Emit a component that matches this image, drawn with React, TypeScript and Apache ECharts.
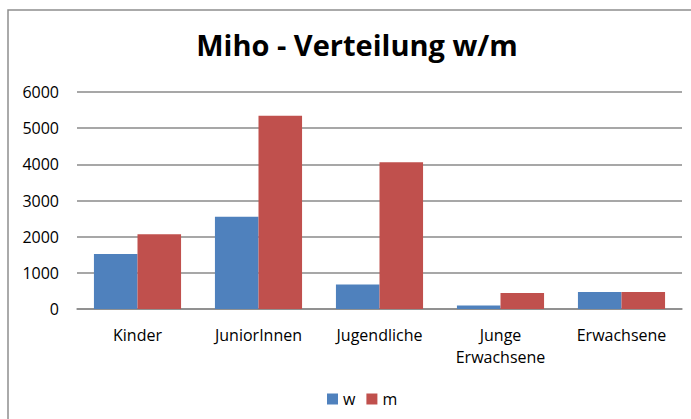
import React, { useEffect, useRef } from "react";
import * as echarts from "echarts";

const title = "Miho - Verteilung w/m";
const categories = ["Kinder", "JuniorInnen", "Jugendliche", "Junge Erwachsene", "Erwachsene"];
const seriesNames = ["w", "m"];
const wValues = [1520, 2550, 680, 100, 470];
const mValues = [2065, 5340, 4060, 440, 470];
const yTicks = [0, 1000, 2000, 3000, 4000, 5000, 6000];

const FONT = "'Open Sans', 'Noto Sans', sans-serif";

export default function App() {
  const ref = useRef<HTMLDivElement>(null);
  useEffect(() => {
    document.body.style.margin = "0";
    const chart = echarts.init(ref.current!, null, { renderer: "svg" });
    chart.setOption({
      animation: false,
      backgroundColor: "#ffffff",
      textStyle: { fontFamily: FONT },
      title: {
        text: title,
        left: 352,
        textAlign: "center",
        top: 25,
        textStyle: { fontFamily: FONT, fontWeight: "bold", fontSize: 29, color: "#000" },
      },
      graphic: [
        {
          type: "rect",
          shape: { x: 8, y: 10, width: 720, height: 440 },
          style: { fill: "none", stroke: "#8e8e8e", lineWidth: 1.5 },
          silent: true,
        },
      ],
      legend: {
        left: 322,
        top: 386,
        icon: "rect",
        itemWidth: 11,
        itemHeight: 11,
        itemGap: 11,
        textStyle: { fontFamily: FONT, fontSize: 16, color: "#000" },
        data: seriesNames,
      },
      grid: { left: 77, right: 9, top: 92, bottom: 110, containLabel: false },
      xAxis: {
        type: "category",
        data: categories,
        axisLine: { show: true, lineStyle: { color: "#8a8a8a", width: 1.5 } },
        axisTick: { show: false },
        axisLabel: {
          fontFamily: FONT,
          fontSize: 16,
          color: "#000",
          margin: 15,
          lineHeight: 22,
          interval: 0,
          formatter: (v: string) => v.replace(" ", "\n"),
        },
      },
      yAxis: {
        type: "value",
        min: yTicks[0],
        max: yTicks[yTicks.length - 1],
        interval: 1000,
        axisLine: { show: false },
        axisTick: { show: false },
        splitLine: { lineStyle: { color: "#8a8a8a", width: 1.5 } },
        axisLabel: {
          fontFamily: FONT,
          fontSize: 16,
          color: "#000",
          margin: 18,
          formatter: (v: number) => String(v),
        },
      },
      series: [
        {
          name: seriesNames[0],
          type: "bar",
          data: wValues,
          itemStyle: { color: "#4F81BD" },
          barGap: "0%",
          barCategoryGap: "28%",
        },
        {
          name: seriesNames[1],
          type: "bar",
          data: mValues,
          itemStyle: { color: "#C0504D" },
          barGap: "0%",
          barCategoryGap: "28%",
        },
      ],
    });
    return () => chart.dispose();
  }, []);
  return <div ref={ref} style={{ width: 691, height: 419 }} />;
}
